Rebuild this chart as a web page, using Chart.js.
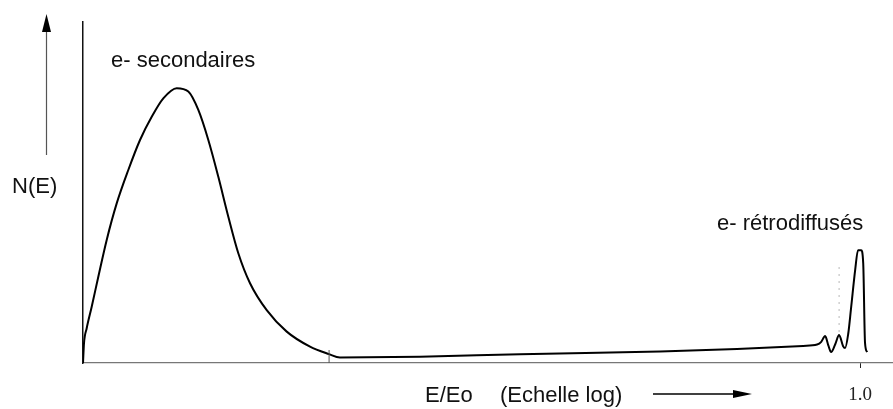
<!DOCTYPE html>
<html>
<head>
<meta charset="utf-8">
<script src="https://cdn.jsdelivr.net/npm/chart.js@4.4.1/dist/chart.umd.min.js"></script>
<style>
    html, body { margin: 0; padding: 0; background: #fff; }
    #wrap { width: 893px; height: 409px; position: relative; }
</style>
</head>
<body>
<div id="wrap"><canvas id="spectrum"></canvas></div>
<script>
// log10(E/Eo) positions along the x axis (Echelle log)
const logEnergy = [
    -3.000, -2.9961, -2.9857, -2.9664, -2.9409, -2.9085, -2.8699, -2.8251, -2.7799, -2.7347,
    -2.690, -2.6382, -2.5934, -2.5548, -2.5162, -2.4776, -2.439, -2.4004, -2.3552, -2.2907,
    -2.2135, -2.1236, -2.0502, -2.008, -1.699, -1.313, -0.772, -0.475, -0.220, -0.166,
    -0.150, -0.135, -0.122, -0.112, -0.096, -0.081, -0.066, -0.058, -0.046, -0.035,
    -0.019, -0.008, 0.004, 0.012, 0.019, 0.027,
];
// N(E), arbitrary units
const countN = [
    0, 5.8, 10.2, 16.5, 25.3, 36.1, 46.8, 56.6, 65.4, 72.2,
    77.6, 80.6, 79.6, 74.2, 65.4, 54.6, 42.9, 32.2, 23.4, 15.5,
    9.2, 4.8, 2.6, 1.6, 1.8, 2.6, 3.4, 4.1, 5.0, 5.4,
    6.2, 7.9, 5.0, 3.2, 5.5, 8.2, 5.0, 4.4, 8.5, 16.0,
    27.3, 33.1, 33.1, 29.3, 5.9, 3.2,
];
// dotted marker above the small loss peak
const markerLog = [-0.081, -0.081];
const markerN = [28, 9];

const tickValues = [0];
const tickLabels = ['1.0'];
const junctionLog = -2.05;

const xTitle = 'E/Eo';
const xTitleNote = '(Echelle log)';
const yTitle = 'N(E)';
const peakLabels = ['e- secondaires', 'e- rétrodiffusés'];

const spectrumCanvas = document.getElementById('spectrum');

const figureNotes = {
    id: 'figureNotes',
    afterDraw(chart) {
        const ctx = chart.ctx;
        const xScale = chart.scales.x;
        const bottom = chart.chartArea.bottom;
        ctx.save();

        // small tick where the secondary peak meets the background
        const jx = xScale.getPixelForValue(junctionLog);
        ctx.strokeStyle = '#555';
        ctx.lineWidth = 1;
        ctx.beginPath();
        ctx.moveTo(jx, bottom - 13);
        ctx.lineTo(jx, bottom);
        ctx.stroke();

        ctx.fillStyle = '#111';
        ctx.font = '22px "Liberation Sans", Arial, sans-serif';
        ctx.textBaseline = 'alphabetic';
        ctx.fillText(peakLabels[0], 111, 67);
        ctx.fillText(peakLabels[1], 717, 230);
        ctx.fillText(yTitle, 12, 193);
        ctx.fillText(xTitle, 425, 402);
        ctx.fillText(xTitleNote, 500, 402);

        // y arrow
        ctx.strokeStyle = '#555';
        ctx.lineWidth = 1.2;
        ctx.beginPath();
        ctx.moveTo(46.5, 155);
        ctx.lineTo(46.5, 28);
        ctx.stroke();
        ctx.fillStyle = '#000';
        ctx.beginPath();
        ctx.moveTo(46.5, 14);
        ctx.lineTo(51, 32);
        ctx.lineTo(42, 32);
        ctx.closePath();
        ctx.fill();

        // x arrow
        ctx.strokeStyle = '#000';
        ctx.lineWidth = 1.5;
        ctx.beginPath();
        ctx.moveTo(653, 394);
        ctx.lineTo(738, 394);
        ctx.stroke();
        ctx.beginPath();
        ctx.moveTo(752, 394);
        ctx.lineTo(733, 390);
        ctx.lineTo(733, 398);
        ctx.closePath();
        ctx.fill();

        ctx.restore();
    },
};

new Chart(spectrumCanvas, {
    type: 'line',
    data: {
        datasets: [
            {
                data: logEnergy.map((v, i) => ({ x: v, y: countN[i] })),
                borderColor: '#000',
                borderWidth: 2,
                pointRadius: 0,
                cubicInterpolationMode: 'monotone',
                fill: false,
            },
            {
                data: markerLog.map((v, i) => ({ x: v, y: markerN[i] })),
                borderColor: '#888',
                borderWidth: 1.2,
                borderDash: [1, 6],
                pointRadius: 0,
                fill: false,
            },
        ],
    },
    options: {
        responsive: true,
        maintainAspectRatio: false,
        animation: false,
        events: [],
        layout: { padding: { top: 22, right: 0, left: 0, bottom: 0 } },
        plugins: {
            legend: { display: false },
            tooltip: { enabled: false },
        },
        scales: {
            x: {
                type: 'linear',
                min: -3,
                max: 0.127,
                afterBuildTicks: (scale) => {
                    scale.ticks = tickValues.map((v) => ({ value: v }));
                },
                afterFit: (scale) => {
                    scale.height = 46;
                },
                ticks: {
                    color: '#222',
                    padding: 16,
                    font: { family: '"Liberation Serif", serif', size: 19 },
                    callback: (value) => tickLabels[tickValues.indexOf(value)],
                },
                grid: {
                    drawOnChartArea: false,
                    drawTicks: true,
                    tickLength: 5,
                    color: '#222',
                },
                border: { display: true, color: '#777', width: 1.2 },
            },
            y: {
                type: 'linear',
                min: 0,
                max: 100,
                afterFit: (scale) => {
                    scale.width = 83;
                },
                ticks: { display: false },
                grid: { display: false },
                border: { display: true, color: '#111', width: 1.5 },
            },
        },
    },
    plugins: [figureNotes],
});
</script>
</body>
</html>
